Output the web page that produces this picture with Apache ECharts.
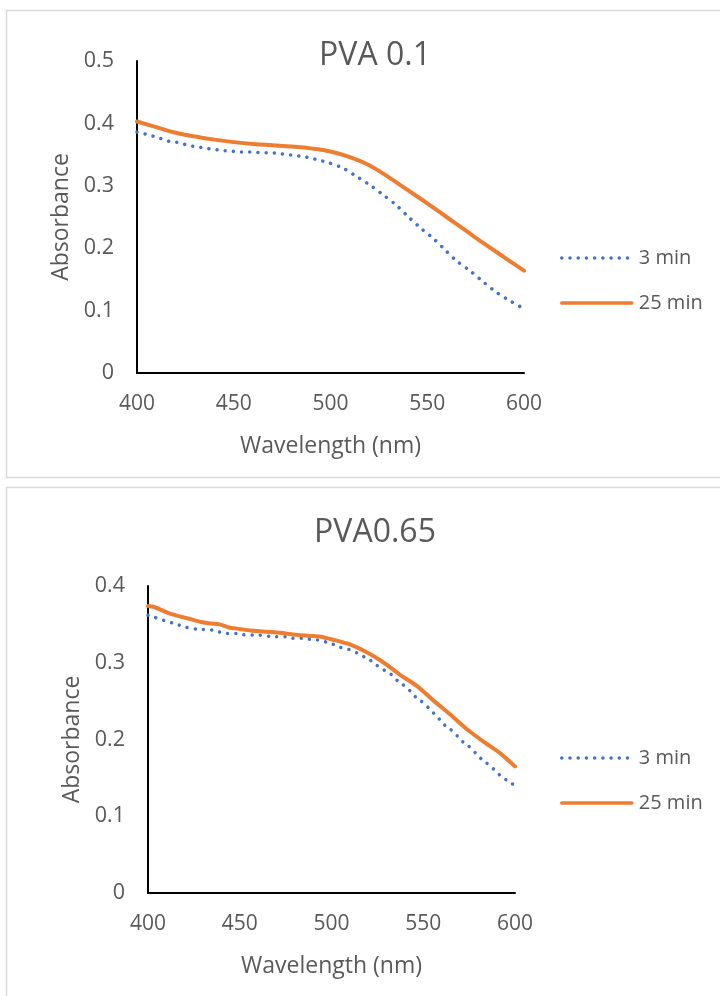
<!DOCTYPE html>
<html>
<head>
<meta charset="utf-8">
<script src="https://cdn.jsdelivr.net/npm/echarts@6/dist/echarts.min.js"></script>
<style>
html,body{margin:0;padding:0;background:#fff;}
#c{width:720px;height:996px;}
</style>
</head>
<body>
<div id="c"></div>
<script>
// ---- Data ----
const titles = ["PVA 0.1", "PVA0.65"];
const seriesNames = ["3 min", "25 min"];
const xTicks = [400, 450, 500, 550, 600];

// Top chart: PVA 0.1
const topWl3 = [400,405,409,413,417,422,426,430,434,438,443,447,451,456,460,464,468,473,477,481,485,489,494,498,506,513,520,527,534,540,546,553,559,565,572,579,585,592,600];
const topAbs3 = [0.386,0.3825,0.379,0.375,0.371,0.369,0.365,0.363,0.361,0.359,0.357,0.356,0.355,0.354,0.354,0.353,0.353,0.352,0.350,0.349,0.347,0.345,0.341,0.338,0.329,0.316,0.302,0.286,0.269,0.251,0.234,0.216,0.198,0.180,0.164,0.146,0.131,0.117,0.103];
const topWl25 = [400,410,420,430,440,450,460,470,480,490,500,510,520,530,540,550,560,570,580,590,600];
const topAbs25 = [0.403,0.394,0.385,0.379,0.374,0.370,0.367,0.365,0.363,0.360,0.355,0.346,0.333,0.314,0.293,0.272,0.250,0.228,0.206,0.185,0.164];

// Bottom chart: PVA0.65
const botWl3 = [400,404,409,413,417,421,426,430,435,439,443,448,452,457,461,466,470,475,479,484,488,493,497,501,505,510,514,518,522,525,529,533,536,540,543,546,550,553,556,559,562,566,569,572,576,579,582,586,589,592,596,600];
const botAbs3 = [0.362,0.359,0.355,0.352,0.349,0.346,0.344,0.3435,0.3426,0.340,0.338,0.338,0.3365,0.336,0.336,0.3344,0.334,0.334,0.332,0.332,0.3305,0.3296,0.327,0.324,0.320,0.317,0.3126,0.3074,0.302,0.296,0.290,0.284,0.2765,0.2696,0.263,0.255,0.248,0.241,0.2335,0.226,0.218,0.211,0.2035,0.196,0.189,0.181,0.174,0.1666,0.160,0.153,0.146,0.140];
const botWl25 = [400,403,408,412,418,423,429,434,439,444,450,456,461,467,472,478,483,488,494,501,510,519,528,537,547,556,565,574,583,592,600];
const botAbs25 = [0.374,0.373,0.368,0.364,0.360,0.357,0.353,0.351,0.350,0.346,0.344,0.342,0.341,0.340,0.339,0.337,0.336,0.335,0.334,0.330,0.324,0.314,0.301,0.285,0.269,0.250,0.232,0.213,0.197,0.182,0.165];

const topYMax = 0.5, botYMax = 0.4;

// ---- Helpers ----
const zip = (xs, ys) => xs.map((x, i) => [x, ys[i]]);
const FONT = "'Open Sans', 'Noto Sans', sans-serif";
const TXT = '#595959';
const BLUE = '#4472C4', ORANGE = '#ED7D31';

function xAx(gi) {
  return {
    type: 'value', gridIndex: gi, min: 400, max: 600, interval: 50,
    axisLine: { show: true, lineStyle: { color: '#000', width: 2 } },
    axisTick: { show: false }, splitLine: { show: false },
    axisLabel: { color: TXT, fontSize: 21, fontFamily: FONT, margin: 21,
      formatter: v => xTicks.includes(v) ? String(v) : '' },
    name: 'Wavelength (nm)', nameLocation: 'middle', nameGap: 62,
    nameTextStyle: { color: TXT, fontSize: 23, fontFamily: FONT }
  };
}
function yAx(gi, max) {
  return {
    type: 'value', gridIndex: gi, min: 0, max: max, interval: 0.1,
    axisLine: { show: true, onZero: false, lineStyle: { color: '#000', width: 2 } },
    axisTick: { show: false }, splitLine: { show: false },
    axisLabel: { color: TXT, fontSize: 21.5, fontFamily: FONT, margin: 23,
      formatter: v => (Math.round(v * 10) / 10).toString() },
    name: 'Absorbance', nameLocation: 'middle', nameRotate: 90, nameGap: 62,
    nameTextStyle: { color: TXT, fontSize: 23, fontFamily: FONT }
  };
}
function dotted(name, gi, data, smooth) {
  return { name, type: 'line', xAxisIndex: gi, yAxisIndex: gi, data, smooth,
    symbol: 'none', lineStyle: { color: BLUE, width: 3.5, type: [0.01, 8.2], cap: 'round' },
    itemStyle: { color: BLUE } };
}
function solid(name, gi, data, smooth) {
  return { name, type: 'line', xAxisIndex: gi, yAxisIndex: gi, data, smooth,
    symbol: 'none', lineStyle: { color: ORANGE, width: 4, cap: 'round', join: 'round' },
    itemStyle: { color: ORANGE } };
}
function legendAt(top) {
  return { orient: 'vertical', left: 555, top, itemWidth: 70, itemHeight: 14, itemGap: 25,
    itemStyle: { opacity: 0 },
    lineStyle: { width: 3.6 },
    textStyle: { color: TXT, fontSize: 20, fontFamily: FONT, padding: [0, 0, 0, 2] },
    data: seriesNames, selectedMode: false };
}

const chart = echarts.init(document.getElementById('c'), null, { renderer: 'canvas' });
chart.setOption({
  backgroundColor: '#fff',
  animation: false,
  graphic: [
    { type: 'rect', shape: { x: 6.5, y: 10.5, width: 730, height: 467 }, style: { fill: 'none', stroke: '#d9d9d9', lineWidth: 1.5 }, z: -1 },
    { type: 'rect', shape: { x: 6.5, y: 487.5, width: 730, height: 530 }, style: { fill: 'none', stroke: '#d9d9d9', lineWidth: 1.5 }, z: -1 }
  ],
  title: [
    { text: titles[0], left: 370, top: 35, textAlign: 'center',
      textStyle: { color: TXT, fontSize: 32, fontWeight: 'normal', fontFamily: FONT } },
    { text: titles[1], left: 370, top: 512, textAlign: 'center',
      textStyle: { color: TXT, fontSize: 32, fontWeight: 'normal', fontFamily: FONT } }
  ],
  legend: [legendAt(243), legendAt(743)],
  grid: [
    { left: 137, top: 61, width: 387, height: 312 },
    { left: 148, top: 586, width: 367, height: 307 }
  ],
  xAxis: [xAx(0), xAx(1)],
  yAxis: [yAx(0, topYMax), yAx(1, botYMax)],
  series: [
    dotted(seriesNames[0], 0, zip(topWl3, topAbs3), 0.3),
    solid(seriesNames[1], 0, zip(topWl25, topAbs25), 0.4),
    dotted(seriesNames[0], 1, zip(botWl3, botAbs3), 0.2),
    solid(seriesNames[1], 1, zip(botWl25, botAbs25), 0.2)
  ]
});
</script>
</body>
</html>
